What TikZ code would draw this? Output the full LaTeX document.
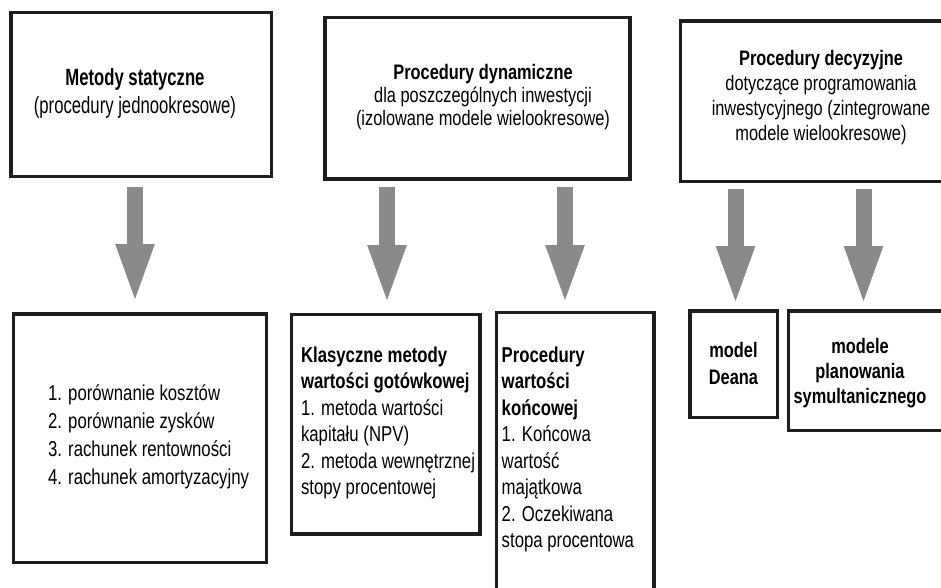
\documentclass[tikz,border=0pt]{standalone}
\usepackage{fontspec}
\setmainfont[FakeStretch=0.78]{Liberation Sans}
\newfontfamily\tallfont[FakeStretch=0.71]{Liberation Sans}
\usetikzlibrary{arrows.meta}
\definecolor{framecol}{HTML}{1E1E1E}
\definecolor{arrowcol}{HTML}{8A8A8A}
\tikzset{
  frame/.style={draw=framecol, line width=3.2pt, inner sep=0pt, outer sep=0pt, fill=white},
  txt/.style={inner sep=0pt, outer sep=0pt, text=black},
  bigarrow/.style={draw=arrowcol, line width=16pt, -{Triangle[length=61pt,width=34pt]}},
}
\begin{document}
\begin{tikzpicture}[x=1pt, y=-1pt]
  \useasboundingbox (0,0) rectangle (941,587);
  \clip (0,0) rectangle (941,587);

  % upper row: the three groups of procedures
  \node[frame, minimum width=260.6pt, minimum height=163.9pt] (b1) at (141.3,94.65) {};
  \node[frame, minimum width=305pt, minimum height=161.3pt] (b2) at (477.5,98.35) {};
  \node[frame, minimum width=299.3pt, minimum height=160.6pt] (b3) at (830.35,101.3) {};

  % lower row: the methods of each group
  \node[frame, minimum width=253.3pt, minimum height=248.3pt] (b4) at (139.95,438.15) {};
  \node[frame, minimum width=188.3pt, minimum height=219.7pt] (b5) at (385.85,424.15) {};
  \node[frame, minimum width=157.3pt, minimum height=307.3pt] (b6) at (575.35,466.35) {};
  \node[frame, minimum width=87.6pt, minimum height=106.6pt] (b7) at (733.8,364.3) {};
  \node[frame, minimum width=191.6pt, minimum height=119.6pt] (b8) at (884.2,370.8) {};

  % texts (the base anchor sits on the last line)
  \node[txt, anchor=base, align=center, font=\tallfont\fontsize{23.5}{28}\selectfont] (t1) at (135,113)
    {\textbf{Metody statyczne}\\(procedury jednookresowe)};
  \node[txt, anchor=base, align=center, font=\fontsize{21}{23}\selectfont] (t2) at (483,125)
    {\textbf{Procedury dynamiczne}\\dla poszczególnych inwestycji\\(izolowane modele wielookresowe)};
  \node[txt, anchor=base, align=center, font=\fontsize{21}{25}\selectfont] (t3) at (821,140)
    {\textbf{Procedury decyzyjne}\\dotyczące programowania\\inwestycyjnego (zintegrowane\\modele wielookresowe)};
  \node[txt, anchor=base west, align=left, font=\fontsize{21.5}{28}\selectfont] (t4) at (48,484)
    {1. porównanie kosztów\\2. porównanie zysków\\3. rachunek rentowności\\4. rachunek amortyzacyjny};
  \node[txt, anchor=base west, align=left, font=\fontsize{21.5}{26.5}\selectfont] (t5) at (301,494.5)
    {\textbf{Klasyczne metody}\\\textbf{wartości gotówkowej}\\1. metoda wartości\\kapitału (NPV)\\2. metoda wewnętrznej\\stopy procentowej};
  \node[txt, anchor=base west, align=left, font=\fontsize{21.5}{26.5}\selectfont] (t6) at (501.7,547.5)
    {\textbf{Procedury}\\\textbf{wartości}\\\textbf{końcowej}\\1. Końcowa\\wartość\\majątkowa\\2. Oczekiwana\\stopa procentowa};
  \node[txt, anchor=base, align=center, font=\fontsize{21}{27}\selectfont] (t7) at (733.5,384)
    {\textbf{model}\\\textbf{Deana}};
  \node[txt, anchor=base, align=center, font=\fontsize{21}{25}\selectfont] (t8) at (860,403)
    {\textbf{modele}\\\textbf{planowania}\\\textbf{symultanicznego}};

  % block arrows from each group to its methods
  \coordinate (a1s) at (135,187);   \coordinate (a1e) at (135,305);
  \coordinate (a2s) at (387,187);   \coordinate (a2e) at (387,306);
  \coordinate (a3s) at (565,187);   \coordinate (a3e) at (565,306);
  \coordinate (a4s) at (735.5,189); \coordinate (a4e) at (735.5,307);
  \coordinate (a5s) at (863.5,189); \coordinate (a5e) at (863.5,307);
  \draw[bigarrow] (a1s) -- (a1e);
  \draw[bigarrow] (a2s) -- (a2e);
  \draw[bigarrow] (a3s) -- (a3e);
  \draw[bigarrow] (a4s) -- (a4e);
  \draw[bigarrow] (a5s) -- (a5e);
\end{tikzpicture}
\end{document}
